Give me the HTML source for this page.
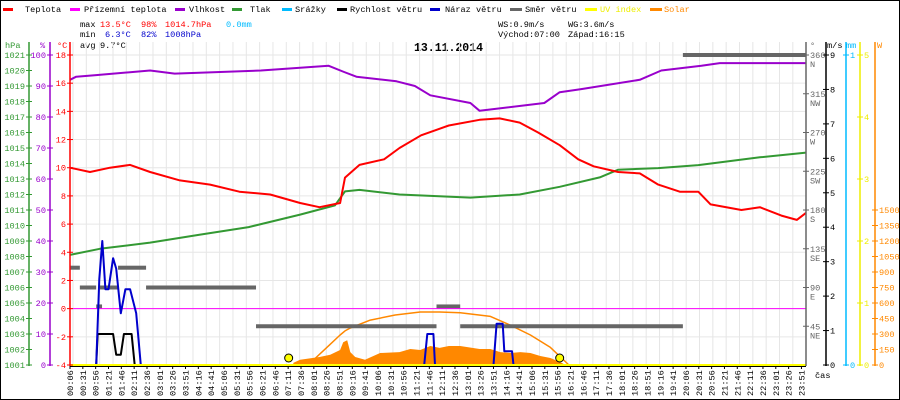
<!DOCTYPE html>
<html><head><meta charset="utf-8">
<style>
html,body{margin:0;padding:0;background:#fff}
svg{display:block}
text{font-family:"Liberation Mono","DejaVu Sans Mono",monospace;font-size:8.6px}
</style></head>
<body>
<svg id="c" width="900" height="400" viewBox="0 0 900 400" xmlns="http://www.w3.org/2000/svg">
<rect x="0.5" y="0.5" width="899" height="399" fill="#fff" stroke="#000"/>
<g>
<rect x="3" y="8" width="10" height="3" fill="#f00"/><text x="25" y="12">Teplota</text>
<rect x="70" y="8" width="10" height="3" fill="#f0f"/><text x="84" y="12">Přízemní teplota</text>
<rect x="175" y="8" width="10" height="3" fill="#90c"/><text x="189" y="12">Vlhkost</text>
<rect x="232" y="8" width="10" height="3" fill="#393"/><text x="250" y="12">Tlak</text>
<rect x="282" y="8" width="10" height="3" fill="#0bf"/><text x="295" y="12">Srážky</text>
<rect x="337" y="8" width="10" height="3" fill="#000"/><text x="350" y="12">Rychlost větru</text>
<rect x="430" y="8" width="10" height="3" fill="#00c"/><text x="445" y="12">Náraz větru</text>
<rect x="510" y="8" width="12" height="3" fill="#666"/><text x="525" y="12">Směr větru</text>
<rect x="585" y="8" width="12" height="3" fill="#ff0"/><text x="600" y="12" fill="#ee0">UV index</text>
<rect x="650" y="8" width="12" height="3" fill="#f80"/><text x="664" y="12" fill="#f80">Solar</text>
</g>
<g>
<text x="80" y="27">max</text><text x="100" y="27" fill="#f00">13.5°C</text><text x="141" y="27" fill="#f00">98%</text><text x="165" y="27" fill="#f00">1014.7hPa</text><text x="226" y="27" fill="#0bf">0.0mm</text>
<text x="80" y="37">min</text><text x="105" y="37" fill="#00c">6.3°C</text><text x="141" y="37" fill="#00c">82%</text><text x="165" y="37" fill="#00c">1008hPa</text>
<text x="80" y="48">avg</text><text x="100" y="48">9.7°C</text>
<text x="498" y="27">WS:0.9m/s</text><text x="568" y="27">WG:3.6m/s</text>
<text x="498" y="37">Východ:07:00</text><text x="568" y="37">Západ:16:15</text>
<text x="414" y="51" style="font-size:11.5px;font-weight:bold">13.11.2014</text>
</g>
<g id="grid"></g>
<g id="series"></g>
<g id="axes"></g>
</svg>
<script>
// ---- data (hours of day / values) ----
const tempH=[0.1,0.75,1.4,2.05,2.7,3.67,4.65,5.6,6.6,7.57,8.2,8.87,9.03,9.5,10.3,10.8,11.5,12.4,13.4,14.05,14.7,15.3,16.0,16.6,17.1,17.9,18.6,19.2,19.9,20.5,20.9,21.9,22.5,23.2,23.7,24.0];
const tempV=[10.0,9.7,10.0,10.2,9.7,9.1,8.8,8.3,8.1,7.5,7.2,7.5,9.3,10.2,10.6,11.4,12.3,13.0,13.4,13.5,13.2,12.5,11.6,10.6,10.1,9.7,9.6,8.8,8.3,8.3,7.4,7.0,7.2,6.6,6.3,6.8];
const feelH=[0.1,24.0];
const feelV=[0,0];
const humH=[0.1,0.3,0.9,2.7,3.5,6.3,8.5,9.0,9.4,10.7,11.3,11.8,13.1,13.4,15.5,16.0,16.7,18.6,19.3,20.6,21.2,24.0];
const humV=[92,93,93.5,95,94,95,96.5,94.5,93,91.5,90,87,84.5,82,84.5,88,89,92,95,96.5,97.4,97.4];
const presH=[0.1,1.07,2.7,4.3,5.9,7.57,8.7,9.03,9.5,10.8,13.1,14.7,16.0,17.3,17.9,19.2,20.5,22.5,24.0];
const presV=[1008.1,1008.5,1008.9,1009.4,1009.9,1010.7,1011.3,1012.2,1012.3,1012.0,1011.8,1012.0,1012.5,1013.1,1013.6,1013.7,1013.9,1014.4,1014.7];
const windH=[0.1,0.95,1.0,1.5,1.6,1.75,1.85,2.1,2.2,24.0];
const windV=[0,0,0.9,0.9,0.3,0.3,0.9,0.9,0,0];
const gustH=[0.1,0.95,1.05,1.15,1.25,1.35,1.5,1.6,1.75,1.9,2.05,2.25,2.4,11.6,11.7,11.8,11.9,11.95,13.85,13.95,14.15,14.2,14.45,14.5,24.0];
const gustV=[0,0,2.5,3.6,2.2,2.2,3.1,2.8,1.5,2.2,2.2,1.5,0,0,0.9,0.9,0.9,0,0,1.2,1.2,0.4,0.4,0,0];
const dirStart=[0.1,0.42,0.95,1.07,1.66,2.57,6.14,12.0,12.77,20.0];
const dirEnd=[0.42,0.95,1.14,1.66,2.57,6.14,12.0,12.77,20.0,24.0];
const dirV=[113,90,68,90,113,90,45,68,45,360];
const solH=[7.35,7.57,8.2,8.55,8.87,8.97,9.1,9.2,9.36,9.68,10.17,10.8,11.15,11.47,11.8,12.1,12.4,12.77,13.4,13.75,14.07,14.4,14.72,15.05,15.37,15.7,16.0,16.2];
const solV=[20,50,77,100,145,220,240,125,77,50,116,125,155,145,184,165,184,184,155,155,125,116,125,116,87,68,30,0];
const maxH=[7.83,8.55,8.87,9.03,9.2,9.85,10.66,11.47,12.1,12.77,13.75,14.4,15.05,15.7,16.3];
const maxV=[0,200,290,330,358,435,484,513,513,505,470,385,290,170,0];
const sunH=[7.2,16.0];
const tickLabels=[];
for(let m=6;m<=1431;m+=25){tickLabels.push(String(Math.floor(m/60)).padStart(2,'0')+':'+String(m%60).padStart(2,'0'));}
const tempTicks=[18,16,14,12,10,8,6,4,2,0,-2,-4];
const humTicks=[100,90,80,70,60,50,40,30,20,10,0];
const presTicks=[1021,1020,1019,1018,1017,1016,1015,1014,1013,1012,1011,1010,1009,1008,1007,1006,1005,1004,1003,1002,1001];
const dirTicks=[360,315,270,225,180,135,90,45];
const dirNames=['N','NW','W','SW','S','SE','E','NE'];
const msTicks=[0,1,2,3,4,5,6,7,8,9];
const uvTicks=[0,1,2,3,4,5];
const wTicks=[0,150,300,450,600,750,900,1050,1200,1350,1500];

// ---- scales ----
const X0=70,X1=806,TOP=55,BOT=365;
const xOf=h=>X0+(h*60-6)*0.5133;
const yT=v=>TOP+(18-v)*(BOT-TOP)/22;
const yH=v=>TOP+(100-v)*(BOT-TOP)/100;
const yP=v=>TOP+(1021-v)*(BOT-TOP)/20;
const yD=v=>BOT-v*(BOT-TOP)/360;
const yM=v=>BOT-v*(BOT-TOP)/9;
const yU=v=>BOT-v*(BOT-TOP)/5;
const yW=v=>BOT-v*155/1500;
const NS='http://www.w3.org/2000/svg';
function mk(tag,attrs,parent){const e=document.createElementNS(NS,tag);for(const k in attrs)e.setAttribute(k,attrs[k]);parent.appendChild(e);return e;}
const grid=document.getElementById('grid'),ser=document.getElementById('series'),ax=document.getElementById('axes');

// grid
for(let x=X0+3;x<X1;x+=13.33){const l=mk('line',{x1:x,x2:x,y1:TOP-13,y2:BOT,stroke:'#e6e6e6'},grid);

}
tempTicks.forEach(t=>{const l=mk('line',{x1:X0,x2:X1,y1:yT(t),y2:yT(t),stroke:'#e6e6e6'},grid);

});

function poly(H,V,ys,color,w,name,step){let p=[];H.forEach((h,i)=>{if(step&&i>0)p.push([xOf(h),ys(V[i-1])]);p.push([xOf(h),ys(V[i])]);});
const e=mk('polyline',{points:p.map(q=>q[0].toFixed(1)+','+q[1].toFixed(1)).join(' '),fill:'none',stroke:color,'stroke-width':w,'stroke-linejoin':'round'},ser);

return e;}

// solar fill
{let pts=solH.map((h,i)=>xOf(h).toFixed(1)+','+yW(solV[i]).toFixed(1));pts.unshift(xOf(solH[0]).toFixed(1)+','+BOT);pts.push(xOf(solH[solH.length-1]).toFixed(1)+','+BOT);
const e=mk('polygon',{points:pts.join(' '),fill:'#f80'},ser);

}
poly(maxH,maxV,yW,'#f80',1.5,'solar-max-line',false);
// direction bars
dirV.forEach((d,i)=>{const r=mk('rect',{x:xOf(dirStart[i]),y:yD(d)-2,width:xOf(dirEnd[i])-xOf(dirStart[i]),height:4,fill:'#666'},ser);

});
poly(feelH,feelV,yT,'#f0f',1,'feels-temp-line',false);
poly(presH,presV,yP,'#393',2,'pressure-line',false);
poly(humH,humV,yH,'#90c',2,'humidity-line',false);
poly(tempH,tempV,yT,'#f00',2,'temperature-line',false);
poly(windH,windV,yM,'#000',2,'wind-speed-line',false);
poly(gustH,gustV,yM,'#00c',2,'wind-gust-line',false);
sunH.forEach(h=>{const c=mk('circle',{cx:xOf(h),cy:BOT-7,r:4,fill:'#ff0',stroke:'#000','stroke-width':1},ser);

});
{const l=mk('line',{x1:X0,x2:X1,y1:BOT,y2:BOT,stroke:'#ff0','stroke-width':2},ser);

}
{const l=mk('line',{x1:X0,x2:X1,y1:BOT+1.5,y2:BOT+1.5,stroke:'#000','stroke-width':1},ax);

}

// axes
function vaxis(x,color,ticks,ys,labelLeft,name,title,tx,fmt){
 const l=mk('line',{x1:x,x2:x,y1:TOP-13,y2:BOT+1,stroke:color,'stroke-width':1.5},ax);
 
 
 const t=mk('text',{x:tx,y:TOP-7,fill:color},ax);t.textContent=title;
 
 
 ticks.forEach((v,i)=>{const y=ys(v);mk('line',{x1:x-3,x2:x+3,y1:y,y2:y,stroke:color},ax);
  const s=mk('text',{x:labelLeft?x-4:x+4,y:y+3,fill:color,'text-anchor':labelLeft?'end':'start'},ax);s.textContent=fmt?fmt(v,i):v;
  
  });
}
vaxis(29,'#393',presTicks,yP,true,'pressure-axis','hPa',5);
vaxis(50,'#90c',humTicks,yH,true,'humidity-axis','%',40);
vaxis(70,'#f00',tempTicks,yT,true,'temperature-axis','°C',57);
vaxis(806,'#666',dirTicks,yD,false,'direction-axis','°',810);
dirTicks.forEach((v,i)=>{const s=mk('text',{x:810,y:yD(v)+12,fill:'#666'},ax);s.textContent=dirNames[i];

});
vaxis(826,'#000',msTicks,yM,false,'wind-axis','m/s',827);
vaxis(846,'#0bf',[0,1],v=>BOT-v*(BOT-TOP),false,'rain-axis','mm',846);
vaxis(860,'#ee0',uvTicks,yU,false,'uv-axis','',862);
vaxis(875,'#f80',wTicks,yW,false,'solar-axis','W',877);

// x labels
tickLabels.forEach((lab,i)=>{const h=(6+25*i)/60;const x=xOf(h);
 mk('line',{x1:x,x2:x,y1:BOT+1,y2:BOT+4,stroke:'#000'},ax);
 const t=mk('text',{transform:`translate(${(x+3).toFixed(1)},396) rotate(-90)`},ax);t.textContent=lab;
 
 });
{const t=mk('text',{x:815,y:378},ax);t.textContent='čas';

}
</script>
</body></html>
